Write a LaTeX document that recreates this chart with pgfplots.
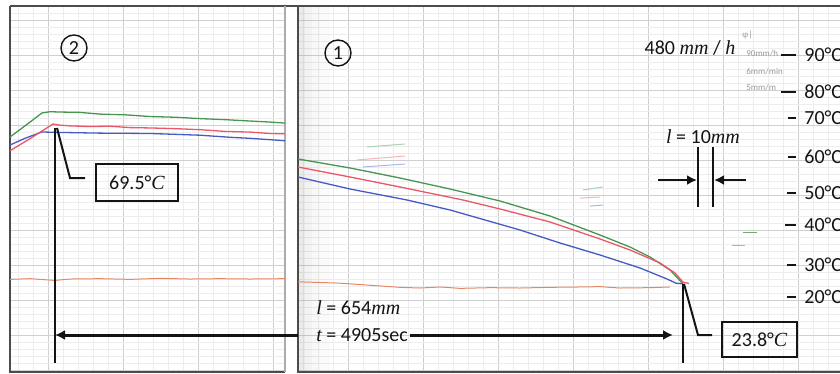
\documentclass[border=0pt]{standalone}
\usepackage{pgfplots}
\pgfplotsset{compat=1.18}
\usetikzlibrary{arrows.meta}
\usepackage{fontspec}
\setmainfont{Carlito}
\newfontfamily\cam{Liberation Serif}
\definecolor{cgreen}{RGB}{70,150,80}
\definecolor{cred}{RGB}{232,88,105}
\definecolor{cblue}{RGB}{70,90,195}
\definecolor{corange}{RGB}{228,135,100}
\definecolor{ink}{RGB}{20,20,20}
\newcommand{\ci}[1]{{\cam\itshape #1}}
\begin{document}
\begin{tikzpicture}
\begin{axis}[name=ax, width=420pt, height=187pt, scale only axis,
  xmin=0, xmax=840, ymin=-2.27, ymax=105.91,
  axis line style={draw=none}, tick style={draw=none},
  xticklabels={}, yticklabels={},
  xtick={48,123,...,798}, minor xtick={3,18,...,838},
  ytick={-1.11,9.01,...,101}, minor ytick={-1.11,0.915,...,105},
  grid=both,
  major grid style={gray!38, line width=0.35pt},
  minor grid style={gray!14, line width=0.25pt},
  clip=true]
% blank margins and gap between the two paper strips
\fill[white] (axis cs:0,-3) rectangle (axis cs:10,107);
\fill[white] (axis cs:285,-3) rectangle (axis cs:298,107);
\fill[white] (axis cs:0,104.18) rectangle (axis cs:840,107);
\fill[white] (axis cs:0,-3) rectangle (axis cs:840,-1.7);
% scan shadow at the edge of the right strip
\fill[gray, fill opacity=0.16] (axis cs:298,-1.7) rectangle (axis cs:305,104.18);
\fill[gray, fill opacity=0.10] (axis cs:305,-1.7) rectangle (axis cs:312,104.18);
\fill[gray, fill opacity=0.06] (axis cs:312,-1.7) rectangle (axis cs:320,104.18);
\fill[gray, fill opacity=0.03] (axis cs:320,-1.7) rectangle (axis cs:330,104.18);
% frames
\draw[gray!60!black, line width=1.2pt] (axis cs:10,104.18) -- (axis cs:840,104.18);
\draw[gray!60!black, line width=0.9pt] (axis cs:10,104.18) -- (axis cs:10,-1.7) -- (axis cs:285,-1.7);
\draw[gray!65, line width=0.8pt] (axis cs:285,104.18) -- (axis cs:285,-1.7);
\draw[gray!60!black, line width=1pt] (axis cs:298,104.18) -- (axis cs:298,-1.7) -- (axis cs:840,-1.7);

% ---- panel 2 (left strip) ----
\addplot[corange, line width=0.5pt] coordinates {(10,25.1) (30,25.3) (50,24.9) (55,24.8) (70,25.2) (100,25.3) (130,25.1) (160,25.4) (190,25.2) (220,25.3) (250,25.2) (285,25.3)};
\addplot[cgreen, line width=0.65pt] coordinates {(10,66.28) (25,69.5) (42,73.23) (50,73.6) (60,73.5) (80,73.4) (100,72.9) (125,72.7) (150,72.2) (175,72.0) (200,71.6) (225,71.3) (250,70.9) (270,70.6) (285,70.3)};
\addplot[cblue, line width=0.65pt] coordinates {(10,63.97) (25,65.9) (42,67.73) (60,67.6) (100,67.4) (150,67.3) (200,66.8) (230,66.2) (250,65.9) (285,65.2)};
\addplot[cred, line width=0.65pt] coordinates {(10,62.3) (30,65.8) (53,70.04) (60,69.7) (70,69.5) (90,69.3) (110,69.4) (130,69.0) (150,68.9) (175,68.7) (200,68.4) (225,67.9) (250,67.7) (270,67.3) (285,67.2)};

% ---- panel 1 (right strip) ----
\addplot[corange, line width=0.5pt] coordinates {(298,24.4) (320,24.2) (340,24.0) (360,23.6) (380,23.2) (400,22.8) (420,22.6) (440,22.9) (460,22.5) (490,22.7) (520,22.6) (550,22.8) (580,22.9) (600,23.0) (620,22.6) (650,22.7) (670,22.9)};
\addplot[cgreen, line width=0.65pt] coordinates {(298,59.92) (350,57.32) (400,54.42) (450,51.24) (500,47.77) (550,43.43) (600,37.93) (630,34.46) (650,31.57) (670,27.81) (683,23.8)};
\addplot[cred, line width=0.65pt] coordinates {(298,57.60) (350,54.71) (400,51.82) (463,48.06) (500,45.46) (550,41.70) (600,36.78) (630,33.60) (660,29.84) (675,26.94) (683,24.3) (689,23.9)};
\addplot[cblue, line width=0.65pt] coordinates {(298,54.71) (350,51.24) (407,48.06) (450,45.17) (520,39.38) (560,35.62) (600,32.15) (640,28.39) (667,25.21) (676,24.0) (683,23.8)};
% faint stray traces
\addplot[cgreen!45, line width=0.5pt] coordinates {(367,63.39) (405,64.26)};
\addplot[cred!45, line width=0.5pt] coordinates {(357,59.63) (405,60.79)};
\addplot[cblue!45, line width=0.5pt] coordinates {(363,57.60) (405,58.47)};
\addplot[cgreen!45, line width=0.5pt] coordinates {(583,50.95) (603,51.82)};
\addplot[cred!45, line width=0.5pt] coordinates {(580,48.6) (600,48.93)};
\addplot[cblue!45, line width=0.5pt] coordinates {(590,46.3) (603,46.61)};
\addplot[cgreen!80, line width=0.5pt] coordinates {(743,38.80) (757,38.80)};
\addplot[corange!80, line width=0.5pt] coordinates {(732,35.04) (745,35.04)};

% circled numbers
\node[circle, draw=ink, line width=0.7pt, minimum size=13pt, inner sep=0pt, text=ink] at (axis cs:74,92.03) {2};
\node[circle, draw=ink, line width=0.7pt, minimum size=13pt, inner sep=0pt, text=ink] at (axis cs:338,90.58) {1};

% 69.5 C annotation
\draw[ink, line width=1.1pt] (axis cs:55,68.9) -- (axis cs:55,0.91);
\draw[ink, line width=1pt] (axis cs:57,68.9) -- (axis cs:70,54.42) -- (axis cs:85,54.42);
\node[draw=ink, line width=1pt, minimum width=41pt, minimum height=18.5pt, inner sep=0pt, text=ink] at (axis cs:137,52.98) {69.5°\ci{C}};

% length / time arrow
\draw[ink, line width=1.5pt, -{Latex[length=5pt,width=5pt]}] (axis cs:298,9.01) -- (axis cs:55,9.01);
\draw[ink, line width=1.5pt, -{Latex[length=5pt,width=5pt]}] (axis cs:410,9.01) -- (axis cs:673,9.01);
\node[anchor=west, text=ink, inner sep=0pt] at (axis cs:316,16.82) {\ci{l} = 654\ci{mm}};
\node[anchor=west, text=ink, inner sep=0pt] at (axis cs:316,9.01) {\ci{t} = 4905sec};

% 23.8 C annotation
\draw[ink, line width=1.1pt] (axis cs:683,23.8) -- (axis cs:683,0.91);
\draw[ink, line width=1pt] (axis cs:684,23.8) -- (axis cs:698,9.01) -- (axis cs:712,9.01);
\node[draw=ink, line width=1pt, minimum width=37.5pt, minimum height=17.5pt, inner sep=0pt, text=ink] at (axis cs:759.5,7.71) {23.8°\ci{C}};

% chart speed and pen offset
\node[text=ink, inner sep=0pt] at (axis cs:690,92.03) {480 \ci{mm} / \ci{h}};
\node[text=ink, inner sep=0pt] at (axis cs:703,66.28) {\ci{l} = 10\ci{mm}};
\draw[ink, line width=1pt] (axis cs:698,63.39) -- (axis cs:698,46.03);
\draw[ink, line width=1pt] (axis cs:713,63.39) -- (axis cs:713,46.03);
\draw[ink, line width=1.4pt, -{Latex[length=5pt,width=5pt]}] (axis cs:658,53.84) -- (axis cs:697,53.84);
\draw[ink, line width=1.4pt, -{Latex[length=5pt,width=5pt]}] (axis cs:746,53.84) -- (axis cs:714,53.84);

% handwritten notes
\node[gray!80, anchor=west, inner sep=0pt, font=\fontsize{4.5}{4.5}\selectfont] at (axis cs:742,95.8) {φ|};
\node[gray!80, anchor=west, inner sep=0pt, font=\fontsize{4.5}{4.5}\selectfont] at (axis cs:746,90.3) {90mm/h};
\node[gray!80, anchor=west, inner sep=0pt, font=\fontsize{4.5}{4.5}\selectfont] at (axis cs:746,85.09) {6mm/min};
\node[gray!80, anchor=west, inner sep=0pt, font=\fontsize{4.5}{4.5}\selectfont] at (axis cs:746,80.46) {5mm/m};

% temperature scale
\draw[ink, line width=1pt] (axis cs:781,90) -- (axis cs:796,90);
\draw[ink, line width=1pt] (axis cs:781,79.30) -- (axis cs:796,79.30);
\draw[ink, line width=1pt] (axis cs:788,71.78) -- (axis cs:796,71.78);
\draw[ink, line width=1pt] (axis cs:788,60.50) -- (axis cs:796,60.50);
\draw[ink, line width=1pt] (axis cs:787,50.08) -- (axis cs:796,50.08);
\draw[ink, line width=1pt] (axis cs:785,40.83) -- (axis cs:796,40.83);
\draw[ink, line width=1pt] (axis cs:787,29.26) -- (axis cs:796,29.26);
\draw[ink, line width=1pt] (axis cs:787,20) -- (axis cs:796,20);
\node[anchor=west, inner sep=0pt, text=ink] at (axis cs:804,90) {90°C};
\node[anchor=west, inner sep=0pt, text=ink] at (axis cs:804,79.30) {80°C};
\node[anchor=west, inner sep=0pt, text=ink] at (axis cs:804,71.78) {70°C};
\node[anchor=west, inner sep=0pt, text=ink] at (axis cs:804,60.50) {60°C};
\node[anchor=west, inner sep=0pt, text=ink] at (axis cs:804,50.08) {50°C};
\node[anchor=west, inner sep=0pt, text=ink] at (axis cs:804,40.83) {40°C};
\node[anchor=west, inner sep=0pt, text=ink] at (axis cs:804,29.26) {30°C};
\node[anchor=west, inner sep=0pt, text=ink] at (axis cs:804,20) {20°C};
\end{axis}
\pgfresetboundingbox
\useasboundingbox (ax.south west) rectangle (ax.north east);
\end{tikzpicture}
\end{document}
